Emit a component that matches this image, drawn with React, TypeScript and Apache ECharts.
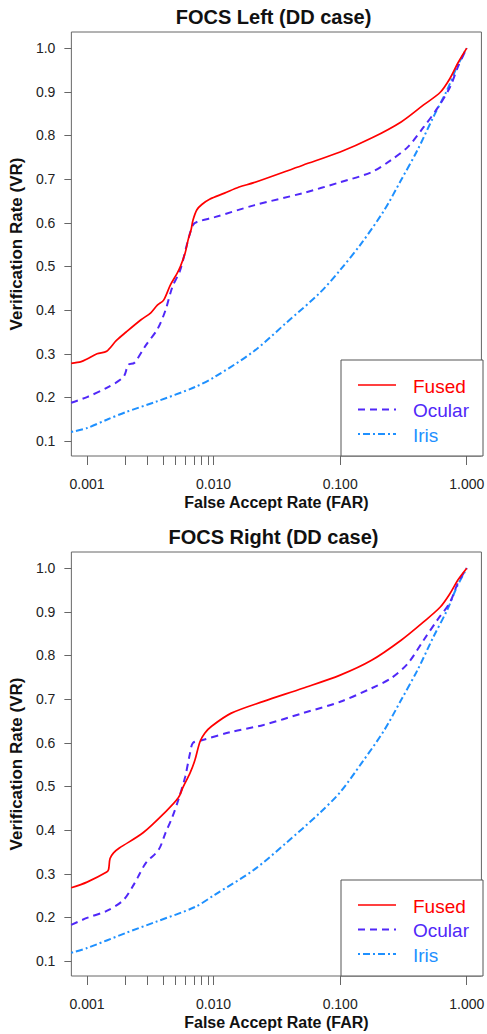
import React, { useEffect, useRef } from "react";
import * as echarts from "echarts";

// ---- data: [FAR, VR] ----
const leftFused: [number, number][] = [
  [0.00075, 0.278], [0.0009, 0.282], [0.001, 0.288], [0.0012, 0.3], [0.00143, 0.306], [0.0017, 0.33],
  [0.00204, 0.35], [0.00267, 0.378], [0.00319, 0.394], [0.00361, 0.412], [0.00403, 0.423], [0.00456, 0.458],
  [0.00516, 0.485], [0.00545, 0.499], [0.00596, 0.531], [0.00629, 0.561], [0.00664, 0.584], [0.00687, 0.606],
  [0.00738, 0.63], [0.00807, 0.642], [0.0093, 0.654], [0.0122, 0.668], [0.0159, 0.682], [0.0208, 0.692],
  [0.0507, 0.732], [0.1, 0.762], [0.177, 0.794], [0.303, 0.831], [0.456, 0.87], [0.618, 0.899],
  [0.738, 0.931], [0.851, 0.966], [1.0, 1.0],
];
const leftOcular: [number, number][] = [
  [0.00075, 0.188], [0.001, 0.201], [0.00143, 0.222], [0.00194, 0.247], [0.00212, 0.275], [0.00236, 0.279],
  [0.00292, 0.32], [0.00361, 0.357], [0.00417, 0.4], [0.00472, 0.453], [0.00545, 0.492], [0.00629, 0.561],
  [0.00687, 0.595], [0.00738, 0.602], [0.0102, 0.613], [0.0208, 0.64], [0.0507, 0.668], [0.1, 0.693],
  [0.177, 0.716], [0.253, 0.744], [0.343, 0.774], [0.456, 0.819], [0.585, 0.862], [0.738, 0.911],
  [0.851, 0.957], [1.0, 1.0],
];
const leftIris: [number, number][] = [
  [0.00075, 0.121], [0.001, 0.13], [0.00143, 0.149], [0.00204, 0.167], [0.00349, 0.19], [0.00713, 0.224],
  [0.0102, 0.247], [0.0208, 0.306], [0.0375, 0.371], [0.0687, 0.439], [0.1, 0.492], [0.148, 0.554],
  [0.223, 0.629], [0.303, 0.698], [0.409, 0.767], [0.544, 0.842], [0.7, 0.904], [0.836, 0.957], [1.0, 1.0],
];
const rightFused: [number, number][] = [
  [0.00075, 0.268], [0.001, 0.281], [0.00143, 0.304], [0.00148, 0.31], [0.00152, 0.335], [0.00162, 0.348],
  [0.0018, 0.359], [0.00277, 0.394], [0.00417, 0.442], [0.00526, 0.474], [0.00575, 0.499], [0.00652, 0.531],
  [0.00713, 0.561], [0.00779, 0.602], [0.00851, 0.622], [0.00964, 0.638], [0.0138, 0.668], [0.0248, 0.695],
  [0.0507, 0.725], [0.1, 0.755], [0.177, 0.789], [0.303, 0.835], [0.456, 0.877], [0.618, 0.911],
  [0.738, 0.942], [0.851, 0.973], [1.0, 1.0],
];
const rightOcular: [number, number][] = [
  [0.00075, 0.183], [0.001, 0.199], [0.00143, 0.215], [0.00194, 0.24], [0.00236, 0.277], [0.00253, 0.293],
  [0.00292, 0.325], [0.00368, 0.355], [0.00417, 0.394], [0.00472, 0.43], [0.00526, 0.469], [0.00596, 0.522],
  [0.00652, 0.577], [0.00687, 0.6], [0.00807, 0.606], [0.0138, 0.625], [0.0248, 0.641], [0.0507, 0.668],
  [0.1, 0.694], [0.177, 0.725], [0.253, 0.748], [0.343, 0.782], [0.456, 0.835], [0.585, 0.881],
  [0.738, 0.922], [0.851, 0.966], [1.0, 1.0],
];
const rightIris: [number, number][] = [
  [0.00075, 0.119], [0.001, 0.13], [0.00204, 0.165], [0.00349, 0.19], [0.00713, 0.224], [0.0102, 0.252],
  [0.0208, 0.309], [0.0375, 0.371], [0.0687, 0.439], [0.1, 0.487], [0.148, 0.554], [0.223, 0.629],
  [0.303, 0.698], [0.409, 0.767], [0.544, 0.842], [0.7, 0.904], [0.836, 0.957], [1.0, 1.0],
];

const titles = ["FOCS Left (DD case)", "FOCS Right (DD case)"];
const seriesNames = ["Fused", "Ocular", "Iris"];
const xTickFars = [0.001, 0.002, 0.003, 0.004, 0.005, 0.006, 0.007, 0.008, 0.009, 0.01, 0.1, 1];
const xLabelFars = [0.001, 0.01, 0.1, 1];
const yTicks = [0.1, 0.2, 0.3, 0.4, 0.5, 0.6, 0.7, 0.8, 0.9, 1.0];

const FAR_MIN = 0.000752;
const FAR_MAX = 1.306;
const VR_MIN = 0.066;
const VR_MAX = 1.037;

const COLORS = ["#FF0000", "#5028F8", "#1E90FF"];
const DASHES: any[] = ["solid", [7, 5], [2, 3, 7, 3]];
const FONT = "'Liberation Sans', Arial, sans-serif";
const INK = "#222";
const FRAME = "#666";

export default function App() {
  const ref = useRef<HTMLDivElement>(null);
  useEffect(() => {
    document.body.style.margin = "0";
    const chart = echarts.init(ref.current!, null, { renderer: "svg" });
    const panels = [
      [leftFused, leftOcular, leftIris],
      [rightFused, rightOcular, rightIris],
    ];
    const gridTop = [32, 552];
    const gridH = 424;
    const gridLeft = 64;
    const gridW = 419;

    const grids = gridTop.map((t) => ({
      left: gridLeft, top: t, width: gridW, height: gridH, show: true,
      borderColor: FRAME, borderWidth: 1, backgroundColor: "transparent",
    }));

    const xAxes: any[] = [];
    const yAxes: any[] = [];
    gridTop.forEach((_, i) => {
      xAxes.push({
        type: "log", gridIndex: i, logBase: 10, min: FAR_MIN, max: FAR_MAX,
        axisLine: { show: false }, axisTick: { show: false }, axisLabel: { show: false },
        splitLine: { show: false },
      });
      xAxes.push({
        type: "value", gridIndex: i, position: "bottom",
        min: Math.log10(FAR_MIN), max: Math.log10(FAR_MAX),
        axisLine: { show: false, onZero: false },
        axisTick: { show: true, length: 9, customValues: xTickFars.map((v) => Math.log10(v)), lineStyle: { color: FRAME } },
        axisLabel: {
          customValues: xLabelFars.map((v) => Math.log10(v)),
          formatter: (v: number) => Math.pow(10, v).toFixed(3),
          margin: 21, fontSize: 14, color: INK, fontFamily: FONT,
        },
        splitLine: { show: false },
        name: "False Accept Rate (FAR)", nameLocation: "middle", nameGap: 38,
        nameTextStyle: { fontWeight: "bold", fontSize: 16, color: "#111", fontFamily: FONT },
      });
      yAxes.push({
        type: "value", gridIndex: i, min: VR_MIN, max: VR_MAX,
        axisLine: { show: false, onZero: false },
        axisTick: { show: true, length: 7, customValues: yTicks, lineStyle: { color: FRAME } },
        axisLabel: {
          customValues: yTicks, formatter: (v: number) => v.toFixed(1),
          margin: 16, fontSize: 14, color: INK, fontFamily: FONT,
        },
        splitLine: { show: false },
        name: "Verification Rate (VR)", nameLocation: "middle", nameGap: 38,
        nameTextStyle: { fontWeight: "bold", fontSize: 17, color: "#111", fontFamily: FONT },
      });
    });

    const series: any[] = [];
    panels.forEach((p, i) => {
      p.forEach((data, k) => {
        series.push({
          type: "line", name: seriesNames[k], xAxisIndex: i * 2, yAxisIndex: i,
          data, symbol: "none", showSymbol: false, smooth: 0.3,
          lineStyle: { color: COLORS[k], width: k === 0 ? 1.7 : 2, type: DASHES[k] },
          z: 3 - k,
        });
      });
    });

    const graphics: any[] = [];
    gridTop.forEach((t, i) => {
      graphics.push({
        type: "text", x: gridLeft + gridW / 2, y: t - 15, z: 10,
        style: { text: titles[i], fill: "#111", font: `bold 20px ${FONT}`, align: "center", verticalAlign: "middle" },
      });
      const lx = 341, ly = t + 328, lw = gridLeft + gridW - lx, lh = t + gridH - ly;
      graphics.push({
        type: "rect", shape: { x: lx, y: ly, width: lw, height: lh }, z: 20,
        style: { fill: "#fff", stroke: "#555", lineWidth: 1 },
      });
      seriesNames.forEach((name, k) => {
        const cy = ly + 25 + k * 24.5;
        graphics.push({
          type: "line", shape: { x1: 358, y1: cy, x2: 396, y2: cy }, z: 21,
          style: { stroke: COLORS[k], lineWidth: k === 0 ? 1.7 : 2, lineDash: k === 0 ? null : DASHES[k] },
        });
        graphics.push({
          type: "text", x: 413, y: cy + 1, z: 21,
          style: { text: name, fill: COLORS[k], font: `19px ${FONT}`, align: "left", verticalAlign: "middle" },
        });
      });
    });

    chart.setOption({
      animation: false,
      backgroundColor: "#fff",
      textStyle: { fontFamily: FONT },
      grid: grids,
      xAxis: xAxes,
      yAxis: yAxes,
      series,
      graphic: graphics,
    });
    return () => chart.dispose();
  }, []);
  return <div ref={ref} style={{ width: 487, height: 1034 }} />;
}
